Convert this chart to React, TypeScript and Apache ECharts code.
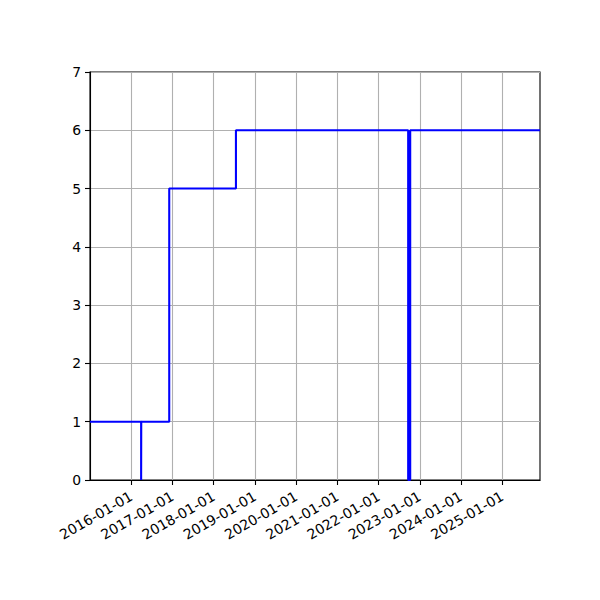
import React, { useEffect, useRef } from "react";
import * as echarts from "echarts";

const dates = [
  "2015-01-01",
  "2016-03-29",
  "2016-03-30",
  "2016-12-03",
  "2018-07-17",
  "2022-09-20",
  "2022-10-08",
  "2025-12-01",
];
const values = [1, 0, 1, 5, 6, 0, 6, 6];
const tickYears = [2016, 2017, 2018, 2019, 2020, 2021, 2022, 2023, 2024, 2025];
const yTicks = [0, 1, 2, 3, 4, 5, 6, 7];

const toTs = (d: string) => {
  const [y, m, dd] = d.split("-").map(Number);
  return Date.UTC(y, m - 1, dd);
};
const pad = (n: number) => (n < 10 ? "0" + n : "" + n);
const fmt = (v: number) => {
  const d = new Date(Math.round(v));
  return `${d.getUTCFullYear()}-${pad(d.getUTCMonth() + 1)}-${pad(d.getUTCDate())}`;
};

export default function App() {
  const ref = useRef<HTMLDivElement>(null);
  useEffect(() => {
    document.body.style.margin = "0";
    if (!ref.current) return;
    const chart = echarts.init(ref.current, null, { renderer: "svg" });
    const tickTs = tickYears.map((y) => Date.UTC(y, 0, 1));
    const data = dates.map((d, i) => [toTs(d), values[i]]);
    const font = "DejaVu Sans";
    chart.setOption({
      animation: false,
      backgroundColor: "#ffffff",
      grid: {
        left: 90,
        right: 60,
        top: 72,
        bottom: 120,
        show: true,
        borderColor: "#000000",
        borderWidth: 1.1,
        backgroundColor: "transparent",
      },
      xAxis: {
        type: "value",
        min: toTs(dates[0]),
        max: toTs(dates[dates.length - 1]),
        axisLine: { show: true, lineStyle: { color: "#000", width: 1.1 } },
        axisTick: {
          show: true,
          length: 5,
          lineStyle: { color: "#000", width: 1.1 },
          customValues: tickTs,
        },
        axisLabel: {
          customValues: tickTs,
          rotate: 30,
          margin: 15,
          color: "#000",
          fontFamily: font,
          fontSize: 14,
          formatter: (v: number) => fmt(v),
        },
        splitLine: {
          show: true,
          lineStyle: { color: "#b0b0b0", width: 1.1 },
        },
      },
      yAxis: {
        type: "value",
        min: yTicks[0],
        max: yTicks[yTicks.length - 1],
        interval: 1,
        axisLine: { show: true, lineStyle: { color: "#000", width: 1.1 } },
        axisTick: {
          show: true,
          length: 5,
          lineStyle: { color: "#000", width: 1.1 },
        },
        axisLabel: {
          margin: 9,
          color: "#000",
          fontFamily: font,
          fontSize: 13.9,
        },
        splitLine: {
          show: true,
          lineStyle: { color: "#b0b0b0", width: 1.1 },
        },
      },
      series: [
        {
          type: "line",
          step: "end",
          data,
          showSymbol: false,
          symbol: "none",
          lineStyle: { color: "#0000ff", width: 2.08 },
          z: 3,
        },
      ],
    });
    return () => chart.dispose();
  }, []);
  return <div ref={ref} style={{ width: 600, height: 600 }} />;
}
